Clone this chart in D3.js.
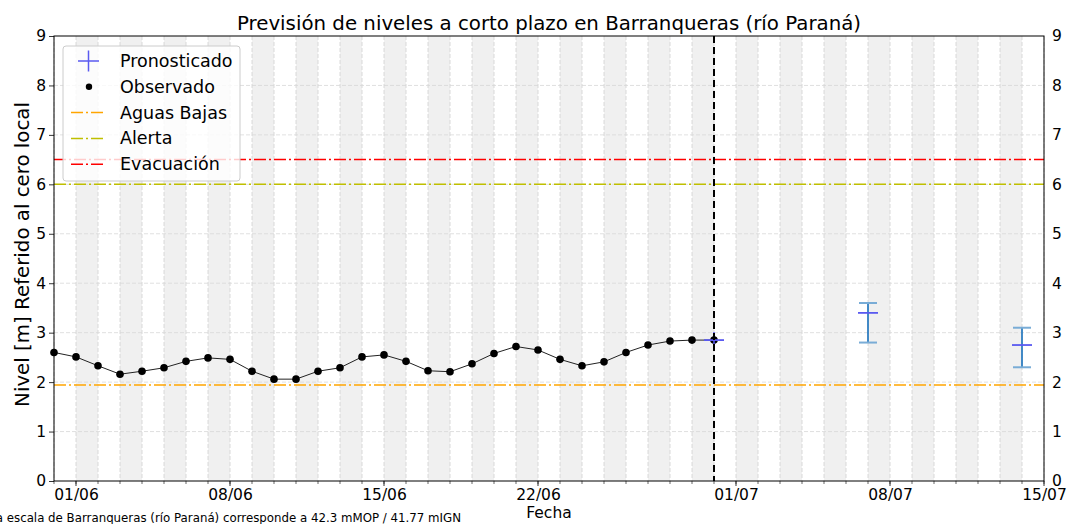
<!DOCTYPE html>
<html>
<head>
<meta charset="utf-8">
<script src="https://cdn.jsdelivr.net/npm/d3@7"></script>
<style>
  body { margin: 0; background: #fff; }
  text { font-family: "DejaVu Sans", sans-serif; }
</style>
</head>
<body>
<script>
// observed daily levels, 31/05 -> 30/06
var obsStart = "2024-05-31";
var observed = [2.60, 2.51, 2.33, 2.16, 2.22, 2.29, 2.42, 2.49, 2.46, 2.22,
                2.06, 2.06, 2.22, 2.29, 2.51, 2.55, 2.42, 2.23, 2.21, 2.37,
                2.58, 2.72, 2.65, 2.46, 2.33, 2.41, 2.60, 2.75, 2.83, 2.85, 2.85];

// forecast
var fcDates = ["2024-06-30", "2024-07-07", "2024-07-14"];
var fcValues = [2.85, 3.40, 2.75];
var fcLow = [2.85, 2.80, 2.30];
var fcHigh = [2.85, 3.60, 3.10];

// reference levels
var refNames = ["Aguas Bajas", "Alerta", "Evacuación"];
var refValues = [1.94, 6.0, 6.5];
var refColors = ["#ffa500", "#bfbf00", "#ff0000"];

var xTicks = ["2024-06-01", "2024-06-08", "2024-06-15", "2024-06-22", "2024-07-01", "2024-07-08", "2024-07-15"];
var yTicks = [0, 1, 2, 3, 4, 5, 6, 7, 8, 9];
var xDomain = ["2024-05-31", "2024-07-15"];
var shadeStart = "2024-06-01";
var nowDate = "2024-06-30";

var W = 1068, H = 524;
var m = {left: 54, right: 1044, top: 36, bottom: 481};

var parse = d3.utcParse("%Y-%m-%d");
var fmt = d3.utcFormat("%d/%m");

var svg = d3.select("body").append("svg")
  .attr("width", W).attr("height", H);

var x = d3.scaleUtc()
  .domain(xDomain.map(parse))
  .range([m.left, m.right]);
var y = d3.scaleLinear()
  .domain([0, 9])
  .range([m.bottom, m.top]);

// alternate day shading
var days = d3.utcDay.range(parse(shadeStart), parse(xDomain[1]));
svg.append("g").selectAll("rect")
  .data(days.filter((d, i) => i % 2 == 0))
  .enter().append("rect")
  .attr("x", d => x(d))
  .attr("y", m.top)
  .attr("width", d => x(d3.utcDay.offset(d, 1)) - x(d))
  .attr("height", m.bottom - m.top)
  .attr("fill", "#f0f0f0");

// grid
var allDays = d3.utcDay.range(parse(xDomain[0]), d3.utcDay.offset(parse(xDomain[1]), 1));
svg.append("g").selectAll("line")
  .data(allDays)
  .enter().append("line")
  .attr("x1", d => x(d)).attr("x2", d => x(d))
  .attr("y1", m.top).attr("y2", m.bottom)
  .attr("stroke", "#d0d0d0").attr("stroke-width", 0.8)
  .attr("stroke-dasharray", "4,2");
svg.append("g").selectAll("line")
  .data(yTicks.slice(1, -1))
  .enter().append("line")
  .attr("x1", m.left).attr("x2", m.right)
  .attr("y1", d => y(d)).attr("y2", d => y(d))
  .attr("stroke", "#d8d8d8").attr("stroke-width", 0.8)
  .attr("stroke-dasharray", "4,2");

// reference lines
svg.append("g").selectAll("line")
  .data(refValues)
  .enter().append("line")
  .attr("x1", m.left).attr("x2", m.right)
  .attr("y1", d => y(d)).attr("y2", d => y(d))
  .attr("stroke", (d, i) => refColors[i])
  .attr("stroke-width", 1.5)
  .attr("stroke-dasharray", "12,3,2,3");

// observed
var obsData = observed.map((v, i) => ({date: d3.utcDay.offset(parse(obsStart), i), value: v}));
var line = d3.line().x(d => x(d.date)).y(d => y(d.value));
svg.append("path")
  .datum(obsData)
  .attr("d", line)
  .attr("fill", "none")
  .attr("stroke", "#222")
  .attr("stroke-width", 1);
svg.append("g").selectAll("circle")
  .data(obsData)
  .enter().append("circle")
  .attr("cx", d => x(d.date))
  .attr("cy", d => y(d.value))
  .attr("r", 3.8)
  .attr("fill", "#000");

// forecast error bars
var fcData = fcDates.map((d, i) => ({date: parse(d), value: fcValues[i], lo: fcLow[i], hi: fcHigh[i]}));
var fc = svg.append("g");
fc.selectAll(".eb").data(fcData).enter().append("line")
  .attr("x1", d => x(d.date)).attr("x2", d => x(d.date))
  .attr("y1", d => y(d.lo)).attr("y2", d => y(d.hi))
  .attr("stroke", "#2f7ec1").attr("stroke-width", 1.8);
["lo", "hi"].forEach(k => {
  fc.selectAll(".cap-" + k).data(fcData.filter(d => d.hi > d.lo)).enter().append("line")
    .attr("x1", d => x(d.date) - 9).attr("x2", d => x(d.date) + 9)
    .attr("y1", d => y(d[k])).attr("y2", d => y(d[k]))
    .attr("stroke", "#79acd6").attr("stroke-width", 2);
});
fc.selectAll(".mk").data(fcData).enter().append("line")
  .attr("x1", d => x(d.date) - 10).attr("x2", d => x(d.date) + 10)
  .attr("y1", d => y(d.value)).attr("y2", d => y(d.value))
  .attr("stroke", "#5a5af0").attr("stroke-width", 1.8);
fc.selectAll(".mkv").data(fcData).enter().append("line")
  .attr("x1", d => x(d.date)).attr("x2", d => x(d.date))
  .attr("y1", d => y(d.value) - 8).attr("y2", d => y(d.value) + 8)
  .attr("stroke", "#5a5af0").attr("stroke-width", 1.5)
  .attr("opacity", d => d.hi > d.lo ? 0 : 1);

// today line
svg.append("line")
  .attr("x1", x(parse(nowDate))).attr("x2", x(parse(nowDate)))
  .attr("y1", m.top).attr("y2", m.bottom)
  .attr("stroke", "#000").attr("stroke-width", 2)
  .attr("stroke-dasharray", "7,4");

// axes
var xAxis = d3.axisBottom(x)
  .tickValues(xTicks.map(parse))
  .tickFormat(fmt)
  .tickSize(0)
  .tickPadding(8);
var gx = svg.append("g").attr("transform", "translate(0," + m.bottom + ")").call(xAxis);
gx.select(".domain").remove();
gx.selectAll("text").attr("font-size", 15.5).attr("fill", "#000")
  .style("font-family", "DejaVu Sans");
// minor day ticks
svg.append("g").selectAll("line")
  .data(allDays)
  .enter().append("line")
  .attr("x1", d => x(d)).attr("x2", d => x(d))
  .attr("y1", m.bottom).attr("y2", m.bottom + 3)
  .attr("stroke", "#000").attr("stroke-width", 0.6);
svg.append("g").selectAll("line")
  .data(xTicks.map(parse))
  .enter().append("line")
  .attr("x1", d => x(d)).attr("x2", d => x(d))
  .attr("y1", m.bottom).attr("y2", m.bottom + 5)
  .attr("stroke", "#000").attr("stroke-width", 0.8);

var gy = svg.append("g").attr("transform", "translate(" + m.left + ",0)")
  .call(d3.axisLeft(y).tickValues(yTicks).tickFormat(d3.format("d")).tickSize(5).tickPadding(3));
gy.select(".domain").remove();
gy.selectAll("text").attr("font-size", 15.5).attr("fill", "#000").style("font-family", "DejaVu Sans");
gy.selectAll("line").attr("stroke-width", 0.8);

var gy2 = svg.append("g").attr("transform", "translate(" + m.right + ",0)")
  .call(d3.axisRight(y).tickValues(yTicks).tickFormat(d3.format("d")).tickSize(0).tickPadding(8));
gy2.select(".domain").remove();
gy2.selectAll("text").attr("font-size", 15.5).attr("fill", "#000").style("font-family", "DejaVu Sans");

// frame
svg.append("rect")
  .attr("x", m.left).attr("y", m.top)
  .attr("width", m.right - m.left).attr("height", m.bottom - m.top)
  .attr("fill", "none").attr("stroke", "#000").attr("stroke-width", 1);

// labels
svg.append("text")
  .attr("x", (m.left + m.right) / 2).attr("y", 30)
  .attr("text-anchor", "middle").attr("font-size", 19.8)
  .text("Previsión de niveles a corto plazo en Barranqueras (río Paraná)");
svg.append("text")
  .attr("x", (m.left + m.right) / 2).attr("y", 518)
  .attr("text-anchor", "middle").attr("font-size", 15.5)
  .text("Fecha");
svg.append("text")
  .attr("transform", "translate(29," + ((m.top + m.bottom) / 2 - 4) + ") rotate(-90)")
  .attr("text-anchor", "middle").attr("font-size", 19.8)
  .text("Nivel [m] Referido al cero local");
svg.append("text")
  .attr("x", 461).attr("y", 522)
  .attr("text-anchor", "end").attr("font-size", 11.8)
  .text("La escala de Barranqueras (río Paraná) corresponde a 42.3 mMOP / 41.77 mIGN");

// legend
var lg = svg.append("g").attr("transform", "translate(63,46)");
lg.append("rect")
  .attr("width", 177).attr("height", 135).attr("rx", 3)
  .attr("fill", "#fff").attr("fill-opacity", 0.8)
  .attr("stroke", "#ccc").attr("stroke-width", 1);
var items = ["Pronosticado", "Observado"].concat(refNames);
items.forEach((name, i) => {
  var yy = 15 + i * 25.8;
  var row = lg.append("g").attr("transform", "translate(0," + yy + ")");
  if (i == 0) {
    row.append("line").attr("x1", 15).attr("x2", 36).attr("y1", 0).attr("y2", 0)
      .attr("stroke", "#5a5af0").attr("stroke-width", 1.5);
    row.append("line").attr("x1", 25.5).attr("x2", 25.5).attr("y1", -10.5).attr("y2", 10.5)
      .attr("stroke", "#5a5af0").attr("stroke-width", 1.5);
  } else if (i == 1) {
    row.append("circle").attr("cx", 26).attr("cy", 0).attr("r", 3.2).attr("fill", "#000");
  } else {
    row.append("line").attr("x1", 8).attr("x2", 42).attr("y1", 0).attr("y2", 0)
      .attr("stroke", refColors[i - 2]).attr("stroke-width", 1.5)
      .attr("stroke-dasharray", "12,3,2,3");
  }
  row.append("text").attr("x", 57).attr("y", 6).attr("font-size", 17.5).text(name);
});
</script>
</body>
</html>
